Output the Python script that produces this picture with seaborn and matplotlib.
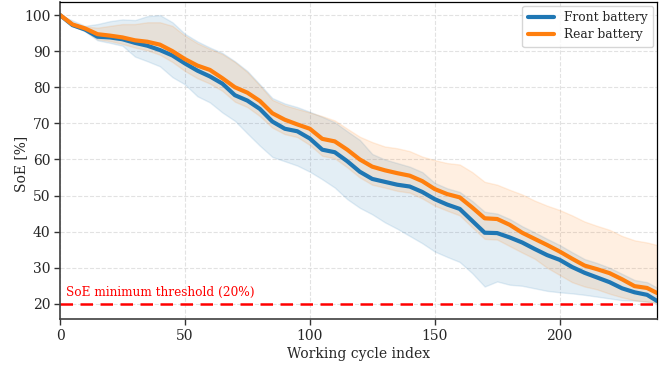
import numpy as np
import pandas as pd
import matplotlib
matplotlib.use("Agg")
import matplotlib.pyplot as plt
import seaborn as sns

cycles = [0, 5, 10, 15, 20, 25, 30, 35, 40, 45, 50, 55, 60, 65, 70, 75, 80, 85, 90, 95,
          100, 105, 110, 115, 120, 125, 130, 135, 140, 145, 150, 155, 160, 165, 170, 175,
          180, 185, 190, 195, 200, 205, 210, 215, 220, 225, 230, 235, 239]

front_mean = [100, 97.2, 96.0, 94.0, 93.8, 93.3, 92.3, 91.5, 90.3, 88.8, 86.6, 84.6, 83.0, 81.0,
              77.8, 76.3, 74.0, 70.5, 68.5, 67.8, 65.8, 62.7, 62.0, 59.5, 56.6, 54.6, 53.8, 53.0,
              52.5, 51.0, 49.0, 47.5, 46.3, 43.0, 39.7, 39.6, 38.4, 37.0, 35.2, 33.5, 32.2, 30.2,
              28.6, 27.3, 26.0, 24.3, 23.2, 22.5, 20.8]
rear_mean = [100, 97.4, 96.3, 94.7, 94.3, 93.8, 93.0, 92.6, 91.8, 90.0, 87.8, 86.0, 84.8, 82.5,
             80.0, 78.5, 76.2, 72.8, 71.0, 69.7, 68.5, 65.7, 65.0, 62.7, 60.0, 58.0, 57.0, 56.2,
             55.5, 54.0, 51.8, 50.4, 49.5, 46.7, 43.7, 43.5, 41.9, 39.7, 38.0, 36.3, 34.5, 32.5,
             30.6, 29.6, 28.5, 26.8, 24.9, 24.4, 23.0]
front_upper = [100, 98.5, 97.0, 97.5, 98.3, 98.8, 98.6, 99.7, 100, 98.0, 94.8, 92.7, 91.0, 89.5,
               87.2, 84.5, 80.8, 77.0, 75.5, 74.5, 73.2, 71.8, 70.3, 67.8, 65.4, 61.5, 60.0, 59.0,
               58.0, 56.5, 53.5, 52.0, 51.0, 48.5, 45.5, 45.0, 43.5, 41.5, 39.8, 38.0, 36.3, 34.3,
               32.4, 31.3, 30.0, 28.3, 26.6, 26.0, 24.5]
front_lower = [100, 97.0, 95.5, 93.0, 92.3, 91.5, 88.5, 87.2, 85.8, 82.8, 80.8, 77.5, 75.8, 73.0,
               70.7, 67.2, 63.8, 60.7, 59.5, 58.3, 56.6, 54.5, 52.2, 49.0, 46.6, 44.8, 42.6, 40.8,
               38.8, 36.8, 34.5, 33.0, 31.6, 28.5, 24.8, 26.2, 25.3, 25.0, 24.3, 23.6, 23.2, 22.9,
               22.5, 22.0, 21.5, 21.0, 20.9, 20.6, 20.3]
rear_upper = [100, 97.6, 96.8, 96.5, 97.0, 97.5, 97.5, 98.0, 98.0, 97.0, 94.3, 92.2, 90.6, 89.2,
              87.0, 84.2, 80.5, 76.5, 75.0, 74.0, 73.0, 72.0, 70.8, 68.5, 66.3, 64.8, 63.6, 63.1,
              62.3, 60.8, 59.8, 59.0, 58.6, 56.5, 53.8, 53.0, 51.6, 50.3, 48.6, 47.2, 46.0, 44.5,
              42.8, 41.6, 40.5, 38.8, 37.6, 37.0, 36.3]
rear_lower = [100, 97.0, 95.6, 93.3, 92.8, 92.0, 91.0, 90.2, 89.0, 87.0, 84.5, 82.5, 81.0, 79.0,
              76.0, 74.5, 72.0, 68.8, 67.0, 66.2, 64.0, 61.0, 60.3, 57.8, 55.0, 53.0, 52.2, 51.3,
              50.8, 49.2, 47.2, 45.8, 44.5, 41.2, 38.0, 37.8, 36.0, 34.2, 32.5, 30.0, 28.0, 26.0,
              24.8, 24.0, 22.8, 21.8, 21.0, 20.6, 20.2]

threshold = 20
threshold_label = "SoE minimum threshold (20%)"
series_names = ["Front battery", "Rear battery"]

sns.set_theme(style="whitegrid")
plt.rcParams["font.family"] = ["DejaVu Serif"]

df = pd.DataFrame({
    "cycle": cycles * 2,
    "soe": front_mean + rear_mean,
    "battery": [series_names[0]] * len(cycles) + [series_names[1]] * len(cycles),
})

fig = plt.figure(figsize=(6.61, 3.66), dpi=100)
ax = fig.add_axes([0.0908, 0.1284, 0.9032, 0.866])

blue = "#1f77b4"
orange = "#ff7f0e"

ax.fill_between(cycles, front_lower, front_upper, color=blue, alpha=0.12, linewidth=1.0,
                edgecolor=(0.12, 0.47, 0.71, 0.12))
ax.fill_between(cycles, rear_lower, rear_upper, color=orange, alpha=0.12, linewidth=1.0,
                edgecolor=(1.0, 0.5, 0.05, 0.12))

sns.lineplot(data=df, x="cycle", y="soe", hue="battery", palette=[blue, orange],
             linewidth=3, ax=ax)

ax.axhline(threshold, color="red", linestyle="--", linewidth=1.8, dashes=(5, 3))
ax.text(2.5, threshold + 1.3, threshold_label, color="red", fontsize=8.7, va="bottom", ha="left")

ax.set_xlim(0, 239)
ax.set_ylim(15.8, 103.6)
ax.set_xticks([0, 50, 100, 150, 200])
ax.set_yticks([20, 30, 40, 50, 60, 70, 80, 90, 100])
ax.set_xlabel("Working cycle index", fontsize=10, labelpad=3)
ax.set_ylabel("SoE [%]", fontsize=10)
ax.yaxis.set_label_coords(-0.053, 0.49)
ax.tick_params(axis="both", labelsize=10, length=4, width=1, color="0.2", left=True, bottom=True,
               pad=3)
ax.grid(True, linestyle="--", color="0.86", linewidth=0.8, alpha=0.8)

for side in ["top", "right"]:
    ax.spines[side].set_color("black")
    ax.spines[side].set_linewidth(0.9)
for side in ["left", "bottom"]:
    ax.spines[side].set_color("0.25")
    ax.spines[side].set_linewidth(1.2)

leg = ax.legend(loc="upper right", fontsize=8.8, frameon=True, title=None,
                handlelength=2.2, borderpad=0.45, borderaxespad=0.3, labelspacing=0.35)
for line in leg.get_lines():
    line.set_linewidth(3)
leg.get_frame().set_edgecolor("0.8")

fig.savefig("out.png", dpi=100)
